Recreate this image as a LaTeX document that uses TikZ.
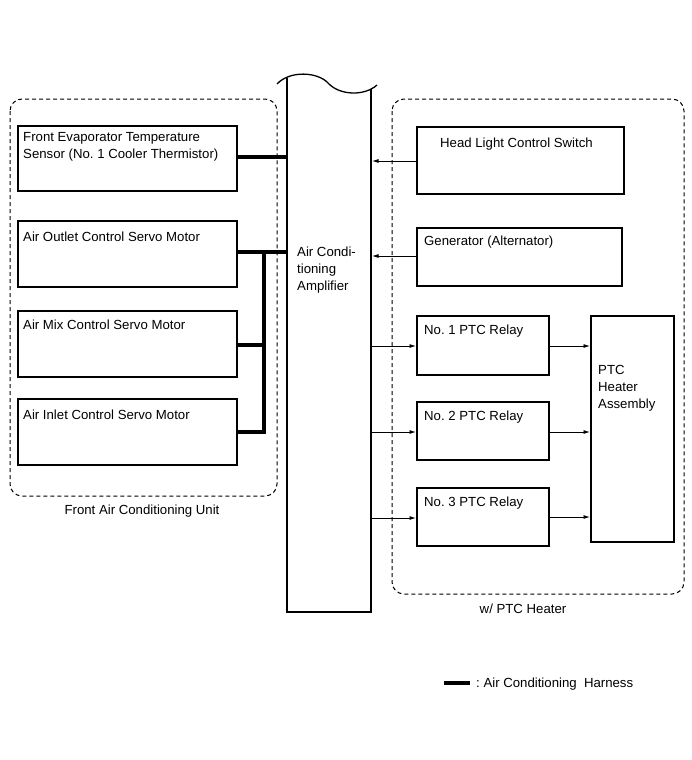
\documentclass[tikz,border=0pt]{standalone}
\usepackage{fontspec}
\setmainfont{Liberation Sans}
\usetikzlibrary{arrows.meta}
\frenchspacing
\begin{document}
\begin{tikzpicture}[x=1pt,y=-1pt,
  box/.style={draw,line width=2pt,inner sep=0pt},
  grp/.style={draw,line width=1pt,dash pattern=on 4pt off 3pt,rounded corners=12pt},
  harness/.style={line width=3.6pt},
  sig/.style={line width=0.9pt,-{Latex[length=6.5pt,width=4pt]}},
  txt/.style={font=\fontsize{13.2}{17}\selectfont,inner sep=0pt,anchor=north west,align=left},
]
\useasboundingbox (0,0) rectangle (691,760);
% groups
\draw[grp] (10,99) rectangle (277,496);
\draw[grp] (392,99) rectangle (684,594);
\node[font=\fontsize{13.2}{17}\selectfont] (lbl1) at (142,511) {Front Air Conditioning Unit};
\node[font=\fontsize{13.2}{17}\selectfont] (lbl2) at (523,609) {w/ PTC Heater};
% amplifier
\fill[white] (287,80) rectangle (371,612);
\draw[line width=2pt] (287,78) -- (287,612) -- (371,612) -- (371,89);
\draw[line width=1.3pt] (277,84) .. controls (290,70) and (318,72) .. (328,83) .. controls (340,96) and (365,96) .. (377,85);
\coordinate (amp) at (287,78);
\node[txt] (amptext) at (297,247) {Air Condi-\\tioning\\Amplifier};
% left boxes
\node[box,minimum width=219pt,minimum height=65pt,anchor=north west] (b1) at (17,125) {};
\node[txt] at (23,132) {Front Evaporator Temperature\\Sensor (No. 1 Cooler Thermistor)};
\node[box,minimum width=219pt,minimum height=66pt,anchor=north west] (b2) at (17,220) {};
\node[txt] at (23,232) {Air Outlet Control Servo Motor};
\node[box,minimum width=219pt,minimum height=66pt,anchor=north west] (b3) at (17,310) {};
\node[txt] at (23,320) {Air Mix Control Servo Motor};
\node[box,minimum width=219pt,minimum height=66pt,anchor=north west] (b4) at (17,398) {};
\node[txt] at (23,410) {Air Inlet Control Servo Motor};
% harness
\draw[harness] (b1.east |- 0,157) -- (287,157);
\draw[harness] (b2.east |- 0,252) -- (287,252);
\draw[harness] (264,250.2) -- (264,433.8);
\draw[harness] (b3.east |- 0,345) -- (264,345);
\draw[harness] (b4.east |- 0,432) -- (265.8,432);
% right boxes
\node[box,minimum width=207pt,minimum height=67pt,anchor=north west] (hl) at (416,126) {};
\node[txt] at (440,138) {Head Light Control Switch};
\node[box,minimum width=205pt,minimum height=58pt,anchor=north west] (gen) at (416,227) {};
\node[txt] at (424,236) {Generator (Alternator)};
\node[box,minimum width=132pt,minimum height=59pt,anchor=north west] (r1) at (416,315) {};
\node[txt] at (424,325) {No. 1 PTC Relay};
\node[box,minimum width=132pt,minimum height=58pt,anchor=north west] (r2) at (416,401) {};
\node[txt] at (424,411) {No. 2 PTC Relay};
\node[box,minimum width=132pt,minimum height=58pt,anchor=north west] (r3) at (416,487) {};
\node[txt] at (424,497) {No. 3 PTC Relay};
\node[box,minimum width=83pt,minimum height=226pt,anchor=north west] (ptc) at (590,315) {};
\node[txt] at (598,365) {PTC\\Heater\\Assembly};
% signals
\draw[sig] (hl.west |- 0,161) -- (372,161);
\draw[sig] (gen.west |- 0,256) -- (372,256);
\draw[sig] (372,346) -- (r1.west |- 0,346);
\draw[sig] (372,432) -- (r2.west |- 0,432);
\draw[sig] (372,518) -- (r3.west |- 0,518);
\draw[sig] (r1.east |- 0,346) -- (ptc.west |- 0,346);
\draw[sig] (r2.east |- 0,432) -- (ptc.west |- 0,432);
\draw[sig] (r3.east |- 0,517) -- (ptc.west |- 0,517);
% legend
\draw[harness] (444,683) -- (470,683);
\node[txt,anchor=west] (leg) at (476,684) {: Air Conditioning\ \ Harness};
\end{tikzpicture}
\end{document}
